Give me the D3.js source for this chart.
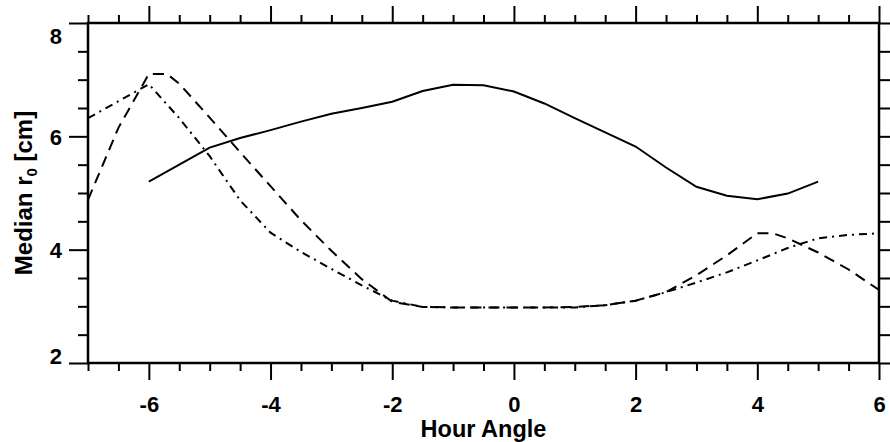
<!DOCTYPE html>
<html><head><meta charset="utf-8">
<script src="https://cdn.jsdelivr.net/npm/d3@7/dist/d3.min.js"></script>
<style>body{margin:0;background:#fff}svg{display:block}text{font-family:"Liberation Sans",Arial,sans-serif;font-weight:bold;fill:#000}</style>
</head><body><svg id="c" width="890" height="442"></svg>
<script>
const solidHA = [-6,-5.5,-5,-4.5,-4,-3.5,-3,-2.5,-2,-1.5,-1,-0.5,0,0.5,1,1.5,2,2.5,3,3.5,4,4.5,5];
const solidR0 = [5.2,5.5,5.8,5.97,6.11,6.26,6.4,6.5,6.61,6.8,6.91,6.9,6.79,6.58,6.32,6.07,5.82,5.45,5.11,4.95,4.89,4.99,5.2];
const dashHA = [-7,-6.5,-6,-5.7,-5.5,-5,-4.5,-4,-3.5,-3,-2.5,-2,-1.5,-1,-0.5,0,0.5,1,1.5,2,2.5,3,3.5,4,4.25,4.5,5,5.5,6];
const dashR0 = [4.88,6.15,7.1,7.1,6.93,6.33,5.72,5.12,4.52,3.98,3.48,3.08,2.99,2.98,2.98,2.98,2.98,2.99,3.02,3.1,3.25,3.55,3.9,4.29,4.29,4.2,3.95,3.65,3.29];
const ddHA = [-7,-6.5,-6,-5.5,-5,-4.5,-4,-3.5,-3,-2.5,-2,-1.5,-1,-0.5,0,0.5,1,1.5,2,2.5,3,3.5,4,4.5,5,5.5,6];
const ddR0 = [6.32,6.62,6.92,6.32,5.65,4.87,4.3,3.96,3.66,3.37,3.1,2.99,2.98,2.98,2.98,2.98,2.98,3.02,3.1,3.25,3.42,3.6,3.81,4.03,4.2,4.26,4.29];
const xMajor = [-6,-4,-2,0,2,4,6];
const yMajor = [2,4,6,8];
const xTitle = "Hour Angle";

const svg = d3.select("#c");
const L=88,R=879,T=23,B=363;
const x = d3.scaleLinear().domain([-7,6]).range([L,R]);
const y = d3.scaleLinear().domain([2,8]).range([B,T]);
const xMinor = d3.range(-7,6.01,0.5).filter(v=>!xMajor.includes(v));
const yMinor = d3.range(2,8.01,0.5).filter(v=>!yMajor.includes(v));

function ax(gen, scale, vals, size, tr, labels){
  const g = svg.append("g").attr("transform",tr)
    .call(gen(scale).tickValues(vals).tickSize(size).tickSizeOuter(0).tickFormat(labels?d3.format("d"):""));
  g.select(".domain").remove();
  g.selectAll("line").attr("stroke","#000").attr("stroke-width",2);
  return g;
}
// bottom
const gb = ax(d3.axisBottom,x,xMajor,17,`translate(0,${B})`,true);
ax(d3.axisBottom,x,xMinor,8,`translate(0,${B})`,false);
gb.selectAll("text").attr("font-size",22).attr("dy","0").attr("y",49).text(d=>d<0?"-"+Math.abs(d):d);
// top
ax(d3.axisTop,x,xMajor,17,`translate(0,${T})`,false);
ax(d3.axisTop,x,xMinor,8,`translate(0,${T})`,false);
// left
const gl = ax(d3.axisLeft,y,yMajor,19,`translate(${L},0)`,true);
ax(d3.axisLeft,y,yMinor,10,`translate(${L},0)`,false);
gl.selectAll("text").attr("font-size",22).attr("x",-26).attr("dy",d=>d===8?"0.93em":(d===2?"0":"0.36em"));
// right
ax(d3.axisRight,y,yMajor,12,`translate(${R},0)`,false);
ax(d3.axisRight,y,yMinor,12,`translate(${R},0)`,false);
// frame
svg.append("rect").attr("x",L).attr("y",T).attr("width",R-L).attr("height",B-T)
  .attr("fill","none").attr("stroke","#000").attr("stroke-width",2.5);

// lines
const line = d3.line().x(d=>x(d[0])).y(d=>y(d[1]));
function draw(hs,vs,dash){
  svg.append("path").datum(hs.map((h,i)=>[h,vs[i]])).attr("d",line)
    .attr("fill","none").attr("stroke","#000").attr("stroke-width",2)
    .attr("stroke-dasharray",dash);
}
draw(solidHA,solidR0,null);
draw(dashHA,dashR0,"11,7");
draw(ddHA,ddR0,"8,5,2,5");

// titles
svg.append("text").attr("x",(L+R)/2).attr("y",437).attr("text-anchor","middle").attr("font-size",23.5).text(xTitle);
const yt = svg.append("text").attr("transform",`translate(32,${(T+B)/2}) rotate(-90)`).attr("text-anchor","middle").attr("font-size",24);
yt.append("tspan").text("Median r");
yt.append("tspan").attr("font-size",15).attr("dy",5).text("0");
yt.append("tspan").attr("dy",-5).text(" [cm]");
</script></body></html>
